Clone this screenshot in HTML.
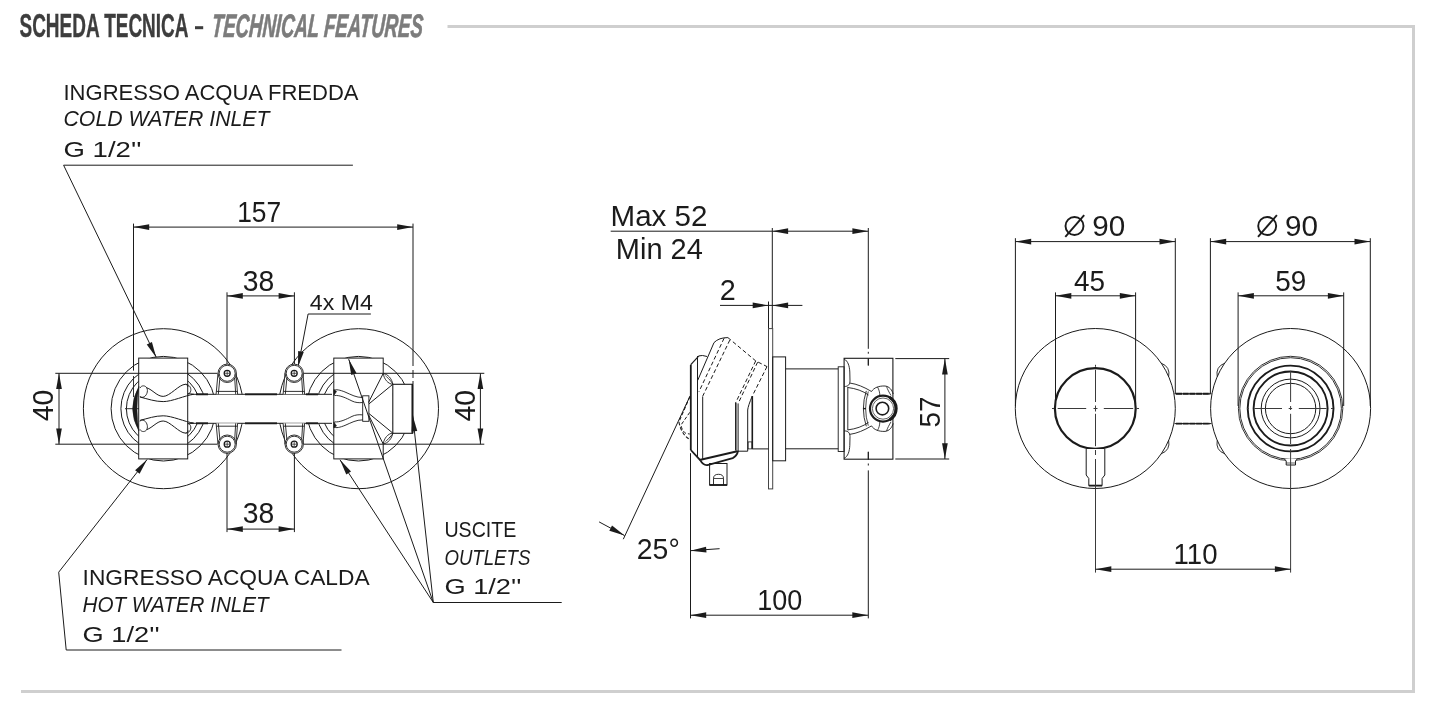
<!DOCTYPE html>
<html><head><meta charset="utf-8"><style>
html,body{margin:0;padding:0;background:#fff;width:1446px;height:714px;overflow:hidden}
svg{display:block;filter:grayscale(1)}
</style></head><body>
<svg width="1446" height="714" viewBox="0 0 1446 714">
<rect width="1446" height="714" fill="#fff"/>
<line x1="447.50" y1="26.40" x2="1415.00" y2="26.40" stroke="#cecfd1" stroke-width="3" />
<line x1="1413.50" y1="24.90" x2="1413.50" y2="692.90" stroke="#cecfd1" stroke-width="3" />
<line x1="21.00" y1="691.40" x2="1415.00" y2="691.40" stroke="#cecfd1" stroke-width="3" />
<text x="19.50" y="37.30" font-family="Liberation Sans" font-size="32.5" font-style="normal" font-weight="bold" fill="#3d3d3f" text-anchor="start" textLength="169.00" lengthAdjust="spacingAndGlyphs" stroke="#3d3d3f" stroke-width="0.4">SCHEDA TECNICA</text>
<rect x="195.00" y="26.20" width="8.20" height="3.00" fill="#3d3d3f" stroke="none" stroke-width="0" />
<text x="211.30" y="37.30" font-family="Liberation Sans" font-size="32.5" font-style="italic" font-weight="bold" fill="#7b7c80" text-anchor="start" textLength="211.00" lengthAdjust="spacingAndGlyphs" stroke="#7b7c80" stroke-width="0.7" transform="translate(0,37.3) skewX(-4) translate(0,-37.3)">TECHNICAL FEATURES</text>
<text x="63.50" y="99.80" font-family="Liberation Sans" font-size="22.2" font-style="normal" font-weight="normal" fill="#1b1b1b" text-anchor="start" textLength="295.00" lengthAdjust="spacingAndGlyphs" >INGRESSO ACQUA FREDDA</text>
<text x="63.50" y="126.40" font-family="Liberation Sans" font-size="22.2" font-style="italic" font-weight="normal" fill="#1b1b1b" text-anchor="start" textLength="206.00" lengthAdjust="spacingAndGlyphs" >COLD WATER INLET</text>
<text x="63.50" y="157.00" font-family="Liberation Sans" font-size="22.2" font-style="normal" font-weight="normal" fill="#1b1b1b" text-anchor="start" textLength="78.00" lengthAdjust="spacingAndGlyphs" >G 1/2''</text>
<polyline points="352.90,165.20 63.60,165.20 156.20,357.00" fill="none" stroke="#1b1b1b" stroke-width="1.0" />
<polygon points="156.20,357.50 151.91,342.03 146.78,344.50" fill="#1b1b1b"/>
<text x="82.60" y="584.60" font-family="Liberation Sans" font-size="22.2" font-style="normal" font-weight="normal" fill="#1b1b1b" text-anchor="start" textLength="287.00" lengthAdjust="spacingAndGlyphs" >INGRESSO ACQUA CALDA</text>
<text x="82.60" y="611.60" font-family="Liberation Sans" font-size="22.2" font-style="italic" font-weight="normal" fill="#1b1b1b" text-anchor="start" textLength="186.00" lengthAdjust="spacingAndGlyphs" >HOT WATER INLET</text>
<text x="82.60" y="641.70" font-family="Liberation Sans" font-size="22.2" font-style="normal" font-weight="normal" fill="#1b1b1b" text-anchor="start" textLength="77.00" lengthAdjust="spacingAndGlyphs" >G 1/2''</text>
<polyline points="147.10,459.50 58.70,572.20 66.20,650.00 341.50,650.00" fill="none" stroke="#1b1b1b" stroke-width="1.0" />
<polygon points="147.10,459.50 135.11,470.17 139.59,473.69" fill="#1b1b1b"/>
<text x="444.40" y="537.30" font-family="Liberation Sans" font-size="22.2" font-style="normal" font-weight="normal" fill="#1b1b1b" text-anchor="start" textLength="72.00" lengthAdjust="spacingAndGlyphs" >USCITE</text>
<text x="444.40" y="564.70" font-family="Liberation Sans" font-size="22.2" font-style="italic" font-weight="normal" fill="#1b1b1b" text-anchor="start" textLength="86.00" lengthAdjust="spacingAndGlyphs" >OUTLETS</text>
<text x="444.40" y="594.10" font-family="Liberation Sans" font-size="22.2" font-style="normal" font-weight="normal" fill="#1b1b1b" text-anchor="start" textLength="77.00" lengthAdjust="spacingAndGlyphs" >G 1/2''</text>
<line x1="433.30" y1="602.50" x2="561.70" y2="602.50" stroke="#1b1b1b" stroke-width="1.0" />
<text x="309.80" y="309.80" font-family="Liberation Sans" font-size="22" font-style="normal" font-weight="normal" fill="#1b1b1b" text-anchor="start" textLength="63.00" lengthAdjust="spacingAndGlyphs" >4x M4</text>
<polyline points="370.90,314.00 308.10,314.00 298.00,367.00" fill="none" stroke="#1b1b1b" stroke-width="1.0" />
<polygon points="298.00,367.00 303.76,352.01 298.16,350.95" fill="#1b1b1b"/>
<circle cx="163.40" cy="408.70" r="80.00" fill="none" stroke="#1b1b1b" stroke-width="1.0" />
<circle cx="163.40" cy="408.70" r="52.30" fill="none" stroke="#1b1b1b" stroke-width="1.0" />
<circle cx="163.40" cy="408.70" r="42.50" fill="none" stroke="#1b1b1b" stroke-width="1.0" />
<circle cx="163.40" cy="408.70" r="37.00" fill="none" stroke="#1b1b1b" stroke-width="1.0" />
<circle cx="358.50" cy="408.70" r="80.00" fill="none" stroke="#1b1b1b" stroke-width="1.0" />
<circle cx="358.50" cy="408.70" r="52.30" fill="none" stroke="#1b1b1b" stroke-width="1.0" />
<circle cx="358.50" cy="408.70" r="42.50" fill="none" stroke="#1b1b1b" stroke-width="1.0" />
<circle cx="358.50" cy="408.70" r="37.00" fill="none" stroke="#1b1b1b" stroke-width="1.0" />
<rect x="191.00" y="394.30" width="141.00" height="29.00" fill="#fff" stroke="none" stroke-width="0" />
<line x1="191.00" y1="394.30" x2="332.00" y2="394.30" stroke="#1b1b1b" stroke-width="1.0" />
<line x1="191.00" y1="423.30" x2="332.00" y2="423.30" stroke="#1b1b1b" stroke-width="1.0" />
<line x1="196.00" y1="394.30" x2="208.00" y2="394.30" stroke="#1b1b1b" stroke-width="1.9" />
<line x1="196.00" y1="423.30" x2="208.00" y2="423.30" stroke="#1b1b1b" stroke-width="1.9" />
<line x1="245.00" y1="394.30" x2="277.00" y2="394.30" stroke="#1b1b1b" stroke-width="1.9" />
<line x1="245.00" y1="423.30" x2="277.00" y2="423.30" stroke="#1b1b1b" stroke-width="1.9" />
<line x1="306.00" y1="394.30" x2="318.00" y2="394.30" stroke="#1b1b1b" stroke-width="1.9" />
<line x1="306.00" y1="423.30" x2="318.00" y2="423.30" stroke="#1b1b1b" stroke-width="1.9" />
<polygon points="216.10,394.30 218.00,373.30 236.00,373.30 237.60,394.30" fill="#fff" stroke="none" stroke-width="0" />
<circle cx="227.20" cy="373.30" r="9.20" fill="#fff" stroke="#1b1b1b" stroke-width="0.9" />
<circle cx="227.20" cy="373.30" r="8.00" fill="none" stroke="#1b1b1b" stroke-width="0.9" />
<circle cx="227.20" cy="373.30" r="3.00" fill="none" stroke="#1b1b1b" stroke-width="1.3" />
<line x1="224.60" y1="373.30" x2="229.80" y2="373.30" stroke="#1b1b1b" stroke-width="0.7" />
<line x1="227.20" y1="370.70" x2="227.20" y2="375.90" stroke="#1b1b1b" stroke-width="0.7" />
<line x1="218.00" y1="373.30" x2="216.10" y2="394.30" stroke="#1b1b1b" stroke-width="0.9" />
<line x1="236.00" y1="373.30" x2="237.60" y2="394.30" stroke="#1b1b1b" stroke-width="0.9" />
<line x1="219.90" y1="377.80" x2="218.30" y2="394.30" stroke="#1b1b1b" stroke-width="0.9" />
<line x1="234.70" y1="377.80" x2="235.70" y2="394.30" stroke="#1b1b1b" stroke-width="0.9" />
<line x1="216.50" y1="391.40" x2="237.40" y2="391.40" stroke="#1b1b1b" stroke-width="0.9" />
<polygon points="216.10,423.30 218.00,444.20 236.00,444.20 237.60,423.30" fill="#fff" stroke="none" stroke-width="0" />
<circle cx="227.20" cy="444.20" r="9.20" fill="#fff" stroke="#1b1b1b" stroke-width="0.9" />
<circle cx="227.20" cy="444.20" r="8.00" fill="none" stroke="#1b1b1b" stroke-width="0.9" />
<circle cx="227.20" cy="444.20" r="3.00" fill="none" stroke="#1b1b1b" stroke-width="1.3" />
<line x1="224.60" y1="444.20" x2="229.80" y2="444.20" stroke="#1b1b1b" stroke-width="0.7" />
<line x1="227.20" y1="441.60" x2="227.20" y2="446.80" stroke="#1b1b1b" stroke-width="0.7" />
<line x1="218.00" y1="444.20" x2="216.10" y2="423.30" stroke="#1b1b1b" stroke-width="0.9" />
<line x1="236.00" y1="444.20" x2="237.60" y2="423.30" stroke="#1b1b1b" stroke-width="0.9" />
<line x1="219.90" y1="439.70" x2="218.30" y2="423.30" stroke="#1b1b1b" stroke-width="0.9" />
<line x1="234.70" y1="439.70" x2="235.70" y2="423.30" stroke="#1b1b1b" stroke-width="0.9" />
<line x1="216.50" y1="426.20" x2="237.40" y2="426.20" stroke="#1b1b1b" stroke-width="0.9" />
<polygon points="283.10,394.30 285.00,373.30 303.00,373.30 304.60,394.30" fill="#fff" stroke="none" stroke-width="0" />
<circle cx="294.20" cy="373.30" r="9.20" fill="#fff" stroke="#1b1b1b" stroke-width="0.9" />
<circle cx="294.20" cy="373.30" r="8.00" fill="none" stroke="#1b1b1b" stroke-width="0.9" />
<circle cx="294.20" cy="373.30" r="3.00" fill="none" stroke="#1b1b1b" stroke-width="1.3" />
<line x1="291.60" y1="373.30" x2="296.80" y2="373.30" stroke="#1b1b1b" stroke-width="0.7" />
<line x1="294.20" y1="370.70" x2="294.20" y2="375.90" stroke="#1b1b1b" stroke-width="0.7" />
<line x1="285.00" y1="373.30" x2="283.10" y2="394.30" stroke="#1b1b1b" stroke-width="0.9" />
<line x1="303.00" y1="373.30" x2="304.60" y2="394.30" stroke="#1b1b1b" stroke-width="0.9" />
<line x1="286.90" y1="377.80" x2="285.30" y2="394.30" stroke="#1b1b1b" stroke-width="0.9" />
<line x1="301.70" y1="377.80" x2="302.70" y2="394.30" stroke="#1b1b1b" stroke-width="0.9" />
<line x1="283.50" y1="391.40" x2="304.40" y2="391.40" stroke="#1b1b1b" stroke-width="0.9" />
<polygon points="283.10,423.30 285.00,444.20 303.00,444.20 304.60,423.30" fill="#fff" stroke="none" stroke-width="0" />
<circle cx="294.20" cy="444.20" r="9.20" fill="#fff" stroke="#1b1b1b" stroke-width="0.9" />
<circle cx="294.20" cy="444.20" r="8.00" fill="none" stroke="#1b1b1b" stroke-width="0.9" />
<circle cx="294.20" cy="444.20" r="3.00" fill="none" stroke="#1b1b1b" stroke-width="1.3" />
<line x1="291.60" y1="444.20" x2="296.80" y2="444.20" stroke="#1b1b1b" stroke-width="0.7" />
<line x1="294.20" y1="441.60" x2="294.20" y2="446.80" stroke="#1b1b1b" stroke-width="0.7" />
<line x1="285.00" y1="444.20" x2="283.10" y2="423.30" stroke="#1b1b1b" stroke-width="0.9" />
<line x1="303.00" y1="444.20" x2="304.60" y2="423.30" stroke="#1b1b1b" stroke-width="0.9" />
<line x1="286.90" y1="439.70" x2="285.30" y2="423.30" stroke="#1b1b1b" stroke-width="0.9" />
<line x1="301.70" y1="439.70" x2="302.70" y2="423.30" stroke="#1b1b1b" stroke-width="0.9" />
<line x1="283.50" y1="426.20" x2="304.40" y2="426.20" stroke="#1b1b1b" stroke-width="0.9" />
<rect x="138.70" y="358.10" width="49.00" height="100.80" fill="#fff" stroke="#1b1b1b" stroke-width="1.0" />
<rect x="333.80" y="358.10" width="49.40" height="100.80" fill="#fff" stroke="#1b1b1b" stroke-width="1.0" />
<g >
<path d="M146.6,387.7 C153,390 157,396.4 163.2,396.4 C170,396.4 179,384.3 185.5,384.3 C187,384.5 188,386 188,387" fill="none" stroke="#1b1b1b" stroke-width="1" />
<path d="M139.9,397 C148,399 155,401.6 163.2,401.6 C172,401.6 185,395.5 193.6,394.3" fill="none" stroke="#1b1b1b" stroke-width="1" />
<path d="M140,388 C141.5,385 145.5,385.3 146.8,388 C148.5,391 146.5,396.5 143,397.3 C141,397.6 140,396.5 140,396" fill="none" stroke="#1b1b1b" stroke-width="0.9" />
<path d="M185.5,384.3 C189,384.3 191.2,387.5 190.8,390.5 C190.5,392.5 189.5,393.8 187.7,394.3" fill="none" stroke="#1b1b1b" stroke-width="0.9" />
<line x1="187.70" y1="393.50" x2="193.60" y2="394.30" stroke="#1b1b1b" stroke-width="0.9" />
</g>
<g transform="matrix(1 0 0 -1 0 817.4)">
<path d="M146.6,387.7 C153,390 157,396.4 163.2,396.4 C170,396.4 179,384.3 185.5,384.3 C187,384.5 188,386 188,387" fill="none" stroke="#1b1b1b" stroke-width="1" />
<path d="M139.9,397 C148,399 155,401.6 163.2,401.6 C172,401.6 185,395.5 193.6,394.3" fill="none" stroke="#1b1b1b" stroke-width="1" />
<path d="M140,388 C141.5,385 145.5,385.3 146.8,388 C148.5,391 146.5,396.5 143,397.3 C141,397.6 140,396.5 140,396" fill="none" stroke="#1b1b1b" stroke-width="0.9" />
<path d="M185.5,384.3 C189,384.3 191.2,387.5 190.8,390.5 C190.5,392.5 189.5,393.8 187.7,394.3" fill="none" stroke="#1b1b1b" stroke-width="0.9" />
<line x1="187.70" y1="393.50" x2="193.60" y2="394.30" stroke="#1b1b1b" stroke-width="0.9" />
</g>
<path d="M138.9,386.5 Q126.5,408.7 138.9,431 Q135,408.7 138.9,386.5 Z" fill="#1b1b1b" stroke="#1b1b1b" stroke-width="0.6" />
<line x1="125.00" y1="408.70" x2="139.00" y2="408.70" stroke="#1b1b1b" stroke-width="0.9" />
<line x1="133.50" y1="223.60" x2="133.50" y2="370.60" stroke="#1b1b1b" stroke-width="1.0" />
<line x1="133.50" y1="376.00" x2="133.50" y2="397.00" stroke="#1b1b1b" stroke-width="0.9" />
<line x1="413.00" y1="223.60" x2="413.00" y2="366.00" stroke="#1b1b1b" stroke-width="1.0" />
<line x1="413.00" y1="370.00" x2="413.00" y2="378.00" stroke="#1b1b1b" stroke-width="1.0" />
<line x1="413.00" y1="381.00" x2="413.00" y2="384.30" stroke="#1b1b1b" stroke-width="1.0" />
<line x1="133.40" y1="227.10" x2="413.00" y2="227.10" stroke="#1b1b1b" stroke-width="1.0" />
<polygon points="133.40,227.10 149.20,229.95 149.20,224.25" fill="#1b1b1b"/>
<polygon points="413.00,227.10 397.20,224.25 397.20,229.95" fill="#1b1b1b"/>
<text x="237.20" y="222.00" font-family="Liberation Sans" font-size="28.6" font-style="normal" font-weight="normal" fill="#1b1b1b" text-anchor="start" textLength="44.00" lengthAdjust="spacingAndGlyphs" >157</text>
<line x1="227.00" y1="292.30" x2="227.00" y2="364.00" stroke="#1b1b1b" stroke-width="1.0" />
<line x1="294.40" y1="292.30" x2="294.40" y2="364.00" stroke="#1b1b1b" stroke-width="1.0" />
<line x1="227.00" y1="295.90" x2="294.40" y2="295.90" stroke="#1b1b1b" stroke-width="1.0" />
<polygon points="227.00,295.90 242.80,298.75 242.80,293.05" fill="#1b1b1b"/>
<polygon points="294.40,295.90 278.60,293.05 278.60,298.75" fill="#1b1b1b"/>
<text x="242.80" y="290.80" font-family="Liberation Sans" font-size="28.6" font-style="normal" font-weight="normal" fill="#1b1b1b" text-anchor="start" textLength="31.50" lengthAdjust="spacingAndGlyphs" >38</text>
<line x1="227.00" y1="453.00" x2="227.00" y2="532.10" stroke="#1b1b1b" stroke-width="1.0" />
<line x1="294.40" y1="453.00" x2="294.40" y2="532.10" stroke="#1b1b1b" stroke-width="1.0" />
<line x1="227.00" y1="529.10" x2="294.40" y2="529.10" stroke="#1b1b1b" stroke-width="1.0" />
<polygon points="227.00,529.10 242.80,531.95 242.80,526.25" fill="#1b1b1b"/>
<polygon points="294.40,529.10 278.60,526.25 278.60,531.95" fill="#1b1b1b"/>
<text x="242.80" y="523.30" font-family="Liberation Sans" font-size="28.6" font-style="normal" font-weight="normal" fill="#1b1b1b" text-anchor="start" textLength="31.50" lengthAdjust="spacingAndGlyphs" >38</text>
<line x1="55.30" y1="373.30" x2="217.30" y2="373.30" stroke="#1b1b1b" stroke-width="1.0" />
<line x1="303.70" y1="373.30" x2="484.30" y2="373.30" stroke="#1b1b1b" stroke-width="1.0" />
<line x1="55.30" y1="444.20" x2="217.30" y2="444.20" stroke="#1b1b1b" stroke-width="1.0" />
<line x1="303.70" y1="444.20" x2="484.30" y2="444.20" stroke="#1b1b1b" stroke-width="1.0" />
<line x1="59.00" y1="373.30" x2="59.00" y2="444.20" stroke="#1b1b1b" stroke-width="1.0" />
<polygon points="59.00,373.30 56.15,389.10 61.85,389.10" fill="#1b1b1b"/>
<polygon points="59.00,444.20 61.85,428.40 56.15,428.40" fill="#1b1b1b"/>
<line x1="480.40" y1="373.30" x2="480.40" y2="444.20" stroke="#1b1b1b" stroke-width="1.0" />
<polygon points="480.40,373.30 477.55,389.10 483.25,389.10" fill="#1b1b1b"/>
<polygon points="480.40,444.20 483.25,428.40 477.55,428.40" fill="#1b1b1b"/>
<text x="0" y="0" transform="translate(53.40,405.50) rotate(-90)" font-family="Liberation Sans" font-size="28.6" fill="#1b1b1b" text-anchor="middle" textLength="31.50" lengthAdjust="spacingAndGlyphs">40</text>
<polygon points="383.20,373.50 392.80,384.30 392.80,433.10 383.20,443.90 368.50,414.90 368.50,402.50" fill="#fff" stroke="none" stroke-width="0" />
<g >
<line x1="383.20" y1="373.50" x2="368.50" y2="402.50" stroke="#1b1b1b" stroke-width="1.0" />
<line x1="392.80" y1="384.30" x2="368.80" y2="404.00" stroke="#1b1b1b" stroke-width="1.0" />
<path d="M383.2,373.5 C388,374 392,379 392.8,384.3 C388,384 384,379 383.2,373.5 Z" fill="none" stroke="#1b1b1b" stroke-width="0.9" />
<path d="M333.8,390.5 C336,389 340,390 345,392 C352,395 356,397.5 362.7,397.5" fill="none" stroke="#1b1b1b" stroke-width="0.9" />
<path d="M334.5,395.5 C340,395 346,398 352,401 C355,402.5 359,403 362.7,402.5" fill="none" stroke="#1b1b1b" stroke-width="0.9" />
<path d="M333.8,389.5 L336.5,391.5 L333.8,395.5 Z" fill="#1b1b1b" stroke="#1b1b1b" stroke-width="0.6" />
</g>
<g transform="matrix(1 0 0 -1 0 817.4)">
<line x1="383.20" y1="373.50" x2="368.50" y2="402.50" stroke="#1b1b1b" stroke-width="1.0" />
<line x1="392.80" y1="384.30" x2="368.80" y2="404.00" stroke="#1b1b1b" stroke-width="1.0" />
<path d="M383.2,373.5 C388,374 392,379 392.8,384.3 C388,384 384,379 383.2,373.5 Z" fill="none" stroke="#1b1b1b" stroke-width="0.9" />
<path d="M333.8,390.5 C336,389 340,390 345,392 C352,395 356,397.5 362.7,397.5" fill="none" stroke="#1b1b1b" stroke-width="0.9" />
<path d="M334.5,395.5 C340,395 346,398 352,401 C355,402.5 359,403 362.7,402.5" fill="none" stroke="#1b1b1b" stroke-width="0.9" />
<path d="M333.8,389.5 L336.5,391.5 L333.8,395.5 Z" fill="#1b1b1b" stroke="#1b1b1b" stroke-width="0.6" />
</g>
<rect x="392.80" y="384.30" width="19.70" height="49.00" fill="#fff" stroke="#1b1b1b" stroke-width="1.1" />
<line x1="412.50" y1="384.30" x2="412.50" y2="433.30" stroke="#1b1b1b" stroke-width="2" />
<rect x="362.70" y="395.80" width="6.20" height="25.50" fill="none" stroke="#1b1b1b" stroke-width="0.9" />
<text x="0" y="0" transform="translate(474.50,405.80) rotate(-90)" font-family="Liberation Sans" font-size="28.6" fill="#1b1b1b" text-anchor="middle" textLength="31.50" lengthAdjust="spacingAndGlyphs">40</text>
<line x1="348.70" y1="359.20" x2="433.30" y2="602.50" stroke="#1b1b1b" stroke-width="1.0" />
<polygon points="348.70,359.20 351.20,375.06 356.58,373.19" fill="#1b1b1b"/>
<line x1="412.70" y1="415.50" x2="433.30" y2="602.50" stroke="#1b1b1b" stroke-width="1.0" />
<polygon points="412.70,415.50 411.60,431.52 417.26,430.89" fill="#1b1b1b"/>
<line x1="340.00" y1="459.80" x2="433.30" y2="602.50" stroke="#1b1b1b" stroke-width="1.0" />
<polygon points="340.00,459.80 346.26,474.58 351.03,471.46" fill="#1b1b1b"/>
<text x="610.50" y="226.00" font-family="Liberation Sans" font-size="28.6" font-style="normal" font-weight="normal" fill="#1b1b1b" text-anchor="start" textLength="97.00" lengthAdjust="spacingAndGlyphs" >Max 52</text>
<text x="615.80" y="258.90" font-family="Liberation Sans" font-size="28.6" font-style="normal" font-weight="normal" fill="#1b1b1b" text-anchor="start" textLength="87.00" lengthAdjust="spacingAndGlyphs" >Min 24</text>
<line x1="610.70" y1="231.20" x2="772.30" y2="231.20" stroke="#1b1b1b" stroke-width="1.0" />
<line x1="772.30" y1="231.20" x2="868.20" y2="231.20" stroke="#1b1b1b" stroke-width="1.0" />
<polygon points="772.30,231.20 788.10,234.05 788.10,228.35" fill="#1b1b1b"/>
<polygon points="868.20,231.20 852.40,228.35 852.40,234.05" fill="#1b1b1b"/>
<line x1="772.30" y1="228.00" x2="772.30" y2="328.60" stroke="#1b1b1b" stroke-width="1.0" />
<line x1="768.50" y1="301.50" x2="768.50" y2="328.60" stroke="#1b1b1b" stroke-width="1.0" />
<line x1="720.00" y1="305.40" x2="802.40" y2="305.40" stroke="#1b1b1b" stroke-width="1.0" />
<polygon points="768.50,305.40 752.70,302.55 752.70,308.25" fill="#1b1b1b"/>
<polygon points="772.30,305.40 788.10,308.25 788.10,302.55" fill="#1b1b1b"/>
<text x="719.80" y="299.60" font-family="Liberation Sans" font-size="28.6" font-style="normal" font-weight="normal" fill="#1b1b1b" text-anchor="start" textLength="16.00" lengthAdjust="spacingAndGlyphs" >2</text>
<line x1="868.30" y1="228.00" x2="868.30" y2="348.80" stroke="#1b1b1b" stroke-width="1.0" />
<line x1="868.30" y1="351.80" x2="868.30" y2="353.70" stroke="#1b1b1b" stroke-width="1.0" />
<line x1="868.30" y1="358.60" x2="868.30" y2="365.50" stroke="#1b1b1b" stroke-width="1.0" />
<line x1="868.30" y1="451.80" x2="868.30" y2="459.60" stroke="#1b1b1b" stroke-width="1.0" />
<line x1="868.30" y1="463.50" x2="868.30" y2="465.50" stroke="#1b1b1b" stroke-width="1.0" />
<line x1="868.30" y1="470.40" x2="868.30" y2="618.40" stroke="#1b1b1b" stroke-width="1.0" />
<rect x="768.50" y="328.60" width="4.20" height="160.30" fill="none" stroke="#444" stroke-width="1" />
<rect x="772.70" y="356.90" width="12.90" height="103.90" fill="none" stroke="#1b1b1b" stroke-width="1" />
<line x1="785.60" y1="368.90" x2="838.20" y2="368.90" stroke="#1b1b1b" stroke-width="1.0" />
<line x1="785.60" y1="448.80" x2="838.20" y2="448.80" stroke="#1b1b1b" stroke-width="1.0" />
<rect x="838.20" y="366.80" width="5.90" height="84.70" fill="none" stroke="#1b1b1b" stroke-width="0.9" />
<rect x="844.10" y="358.30" width="48.80" height="100.90" fill="none" stroke="#1b1b1b" stroke-width="1.1" />
<line x1="868.30" y1="358.60" x2="868.30" y2="365.50" stroke="#1b1b1b" stroke-width="1.0" />
<line x1="868.30" y1="451.80" x2="868.30" y2="459.60" stroke="#1b1b1b" stroke-width="1.0" />
<g >
<path d="M844.1,359 C848,361 849.5,366 849.8,372 L850,381 C849.8,384.5 848.5,386.5 844.1,386.5" fill="none" stroke="#1b1b1b" stroke-width="0.9" />
<path d="M849.6,383 C857,384 864,387 871.5,391.5" fill="none" stroke="#1b1b1b" stroke-width="0.9" />
<path d="M847.8,387.5 C856,388.5 863,391 868.5,395" fill="none" stroke="#1b1b1b" stroke-width="0.9" />
<path d="M871.5,391.5 C874,387.5 879,385.8 885,386 C889.5,386.5 892,390 893.2,394" fill="none" stroke="#1b1b1b" stroke-width="0.9" />
<path d="M877.5,387 C879,389.5 879.8,392.5 879.8,395.5" fill="none" stroke="#1b1b1b" stroke-width="0.8" />
<path d="M886.5,386.3 C887.5,389.5 889.2,392.5 891,395.5" fill="none" stroke="#1b1b1b" stroke-width="0.8" />
</g>
<g transform="matrix(1 0 0 -1 0 817.4)">
<path d="M844.1,359 C848,361 849.5,366 849.8,372 L850,381 C849.8,384.5 848.5,386.5 844.1,386.5" fill="none" stroke="#1b1b1b" stroke-width="0.9" />
<path d="M849.6,383 C857,384 864,387 871.5,391.5" fill="none" stroke="#1b1b1b" stroke-width="0.9" />
<path d="M847.8,387.5 C856,388.5 863,391 868.5,395" fill="none" stroke="#1b1b1b" stroke-width="0.9" />
<path d="M871.5,391.5 C874,387.5 879,385.8 885,386 C889.5,386.5 892,390 893.2,394" fill="none" stroke="#1b1b1b" stroke-width="0.9" />
<path d="M877.5,387 C879,389.5 879.8,392.5 879.8,395.5" fill="none" stroke="#1b1b1b" stroke-width="0.8" />
<path d="M886.5,386.3 C887.5,389.5 889.2,392.5 891,395.5" fill="none" stroke="#1b1b1b" stroke-width="0.8" />
</g>
<line x1="847.80" y1="387.00" x2="847.80" y2="430.20" stroke="#1b1b1b" stroke-width="0.9" />
<path d="M866.3,390.9 Q860.5,408.6 866.3,426.3" fill="none" stroke="#1b1b1b" stroke-width="0.9" />
<path d="M868.3,391.5 Q863,408.6 868.3,425.7" fill="none" stroke="#1b1b1b" stroke-width="0.8" />
<line x1="863.00" y1="408.60" x2="866.00" y2="408.60" stroke="#1b1b1b" stroke-width="1.4" />
<circle cx="883.00" cy="408.60" r="13.00" fill="#fff" stroke="#1b1b1b" stroke-width="2.2" />
<path d="M889.5,397.3 A13,13 0 0 1 889.5,419.9" fill="none" stroke="#1b1b1b" stroke-width="3.2" />
<circle cx="883.00" cy="408.60" r="10.60" fill="none" stroke="#1b1b1b" stroke-width="0.7" />
<circle cx="882.40" cy="408.60" r="6.30" fill="none" stroke="#1b1b1b" stroke-width="1.6" />
<line x1="895.30" y1="358.60" x2="949.20" y2="358.60" stroke="#1b1b1b" stroke-width="1.0" />
<line x1="895.30" y1="459.00" x2="949.20" y2="459.00" stroke="#1b1b1b" stroke-width="1.0" />
<line x1="944.90" y1="358.60" x2="944.90" y2="459.00" stroke="#1b1b1b" stroke-width="1.0" />
<polygon points="944.90,358.60 942.05,374.40 947.75,374.40" fill="#1b1b1b"/>
<polygon points="944.90,459.00 947.75,443.20 942.05,443.20" fill="#1b1b1b"/>
<text x="0" y="0" transform="translate(940.40,412.10) rotate(-90)" font-family="Liberation Sans" font-size="28.6" fill="#1b1b1b" text-anchor="middle" textLength="31.00" lengthAdjust="spacingAndGlyphs">57</text>
<line x1="690.80" y1="364.70" x2="690.80" y2="450.00" stroke="#1b1b1b" stroke-width="1.8" />
<polyline points="690.80,364.70 698.90,355.90" fill="none" stroke="#1b1b1b" stroke-width="1.2" />
<path d="M698.9,355.9 Q702,354.8 707.1,356.5" fill="none" stroke="#1b1b1b" stroke-width="1" />
<line x1="697.50" y1="356.00" x2="697.50" y2="457.30" stroke="#1b1b1b" stroke-width="1" />
<line x1="702.70" y1="396.50" x2="702.70" y2="458.90" stroke="#1b1b1b" stroke-width="1" />
<path d="M697.7,380.4 L714,342.6 Q719,337.5 727.9,337.6" fill="none" stroke="#1b1b1b" stroke-width="1" />
<polyline points="727.90,337.60 755.70,360.90 767.00,366.60" fill="none" stroke="#1b1b1b" stroke-width="1" stroke-dasharray="4 2.5"/>
<line x1="724.10" y1="338.20" x2="698.90" y2="391.80" stroke="#1b1b1b" stroke-width="1" stroke-dasharray="4 2.5"/>
<line x1="729.80" y1="340.10" x2="702.70" y2="396.20" stroke="#1b1b1b" stroke-width="1" stroke-dasharray="4 2.5"/>
<line x1="755.70" y1="360.90" x2="735.50" y2="403.10" stroke="#1b1b1b" stroke-width="1" stroke-dasharray="4 2.5"/>
<line x1="757.60" y1="362.20" x2="738.00" y2="403.80" stroke="#1b1b1b" stroke-width="1" stroke-dasharray="4 2.5"/>
<line x1="767.00" y1="366.60" x2="752.50" y2="395.60" stroke="#1b1b1b" stroke-width="1" stroke-dasharray="4 2.5"/>
<line x1="735.80" y1="403.10" x2="735.80" y2="450.50" stroke="#1b1b1b" stroke-width="1.5" />
<line x1="738.10" y1="403.80" x2="738.10" y2="451.00" stroke="#1b1b1b" stroke-width="1.0" />
<line x1="738.10" y1="451.20" x2="747.70" y2="451.20" stroke="#1b1b1b" stroke-width="1.0" />
<path d="M747.7,451.2 L747.7,410 Q748,406 752.3,396" fill="none" stroke="#1b1b1b" stroke-width="1" />
<line x1="752.30" y1="396.00" x2="752.30" y2="448.90" stroke="#1b1b1b" stroke-width="1.6" />
<line x1="752.30" y1="448.90" x2="768.50" y2="448.90" stroke="#1b1b1b" stroke-width="1.0" />
<rect x="748.10" y="441.90" width="3.90" height="7.00" fill="none" stroke="#1b1b1b" stroke-width="0.8" />
<polyline points="690.80,450.00 700.40,460.40" fill="none" stroke="#1b1b1b" stroke-width="1.8" />
<path d="M700.4,460.4 Q703,465.5 707.5,465 L732.7,458.1 Q737,456 738.1,450.8" fill="none" stroke="#1b1b1b" stroke-width="1.8" />
<line x1="699.60" y1="460.00" x2="737.30" y2="451.20" stroke="#1b1b1b" stroke-width="1.9" />
<rect x="709.60" y="463.50" width="17.40" height="21.50" fill="none" stroke="#1b1b1b" stroke-width="1" />
<line x1="709.60" y1="485.00" x2="727.00" y2="485.00" stroke="#1b1b1b" stroke-width="1.8" />
<path d="M713.5,485 L713.5,478.5 Q713.5,474.3 718.5,474.3 Q723.5,474.3 723.5,478.5 L723.5,485" fill="none" stroke="#1b1b1b" stroke-width="0.9" />
<line x1="713.50" y1="478.50" x2="723.50" y2="478.50" stroke="#1b1b1b" stroke-width="0.8" />
<path d="M689.8,396.7 L678.9,421.9 Q680,428 682.6,432 Q684.5,436 689.4,439.2" fill="none" stroke="#1b1b1b" stroke-width="1.1" stroke-dasharray="3.5 2"/>
<path d="M689.8,412.3 L681,425 Q682,431 686,433.5 L689.8,434" fill="none" stroke="#1b1b1b" stroke-width="1" stroke-dasharray="3.5 2"/>
<line x1="690.10" y1="395.90" x2="623.30" y2="539.20" stroke="#1b1b1b" stroke-width="1.0" />
<line x1="599.10" y1="521.90" x2="624.60" y2="535.60" stroke="#1b1b1b" stroke-width="1.0" />
<polygon points="624.60,535.60 612.03,525.61 609.33,530.63" fill="#1b1b1b"/>
<line x1="690.50" y1="550.70" x2="719.60" y2="548.70" stroke="#1b1b1b" stroke-width="1.0" />
<polygon points="690.50,550.70 706.46,552.46 706.07,546.77" fill="#1b1b1b"/>
<text x="636.80" y="559.20" font-family="Liberation Sans" font-size="28.6" font-style="normal" font-weight="normal" fill="#1b1b1b" text-anchor="start" textLength="43.00" lengthAdjust="spacingAndGlyphs" >25°</text>
<line x1="690.50" y1="453.20" x2="690.50" y2="618.40" stroke="#1b1b1b" stroke-width="1.0" />
<line x1="690.40" y1="615.20" x2="868.10" y2="615.20" stroke="#1b1b1b" stroke-width="1.0" />
<polygon points="690.40,615.20 706.20,618.05 706.20,612.35" fill="#1b1b1b"/>
<polygon points="868.10,615.20 852.30,612.35 852.30,618.05" fill="#1b1b1b"/>
<text x="757.20" y="610.10" font-family="Liberation Sans" font-size="28.6" font-style="normal" font-weight="normal" fill="#1b1b1b" text-anchor="start" textLength="45.00" lengthAdjust="spacingAndGlyphs" >100</text>
<line x1="1015.40" y1="238.20" x2="1015.40" y2="406.00" stroke="#1b1b1b" stroke-width="1.0" />
<line x1="1175.30" y1="238.20" x2="1175.30" y2="393.80" stroke="#1b1b1b" stroke-width="1.0" />
<line x1="1210.40" y1="238.20" x2="1210.40" y2="393.80" stroke="#1b1b1b" stroke-width="1.0" />
<line x1="1370.30" y1="238.20" x2="1370.30" y2="406.00" stroke="#1b1b1b" stroke-width="1.0" />
<line x1="1055.50" y1="292.40" x2="1055.50" y2="404.00" stroke="#1b1b1b" stroke-width="1.0" />
<line x1="1135.60" y1="292.40" x2="1135.60" y2="404.00" stroke="#1b1b1b" stroke-width="1.0" />
<line x1="1238.10" y1="292.40" x2="1238.10" y2="406.00" stroke="#1b1b1b" stroke-width="1.0" />
<line x1="1343.70" y1="292.40" x2="1343.70" y2="406.00" stroke="#1b1b1b" stroke-width="1.0" />
<line x1="1015.40" y1="241.60" x2="1175.30" y2="241.60" stroke="#1b1b1b" stroke-width="1.0" />
<polygon points="1015.40,241.60 1031.20,244.45 1031.20,238.75" fill="#1b1b1b"/>
<polygon points="1175.30,241.60 1159.50,238.75 1159.50,244.45" fill="#1b1b1b"/>
<line x1="1210.40" y1="241.60" x2="1370.30" y2="241.60" stroke="#1b1b1b" stroke-width="1.0" />
<polygon points="1210.40,241.60 1226.20,244.45 1226.20,238.75" fill="#1b1b1b"/>
<polygon points="1370.30,241.60 1354.50,238.75 1354.50,244.45" fill="#1b1b1b"/>
<line x1="1055.50" y1="295.80" x2="1135.60" y2="295.80" stroke="#1b1b1b" stroke-width="1.0" />
<polygon points="1055.50,295.80 1071.30,298.65 1071.30,292.95" fill="#1b1b1b"/>
<polygon points="1135.60,295.80 1119.80,292.95 1119.80,298.65" fill="#1b1b1b"/>
<line x1="1238.10" y1="295.80" x2="1343.70" y2="295.80" stroke="#1b1b1b" stroke-width="1.0" />
<polygon points="1238.10,295.80 1253.90,298.65 1253.90,292.95" fill="#1b1b1b"/>
<polygon points="1343.70,295.80 1327.90,292.95 1327.90,298.65" fill="#1b1b1b"/>
<circle cx="1074.50" cy="226.00" r="9.00" fill="none" stroke="#1b1b1b" stroke-width="1.9" />
<line x1="1065.30" y1="236.80" x2="1084.20" y2="215.20" stroke="#1b1b1b" stroke-width="1.9" />
<circle cx="1267.20" cy="226.00" r="9.00" fill="none" stroke="#1b1b1b" stroke-width="1.9" />
<line x1="1258.00" y1="236.80" x2="1276.90" y2="215.20" stroke="#1b1b1b" stroke-width="1.9" />
<text x="1092.30" y="236.20" font-family="Liberation Sans" font-size="28.6" font-style="normal" font-weight="normal" fill="#1b1b1b" text-anchor="start" textLength="33.00" lengthAdjust="spacingAndGlyphs" >90</text>
<text x="1285.00" y="236.20" font-family="Liberation Sans" font-size="28.6" font-style="normal" font-weight="normal" fill="#1b1b1b" text-anchor="start" textLength="33.00" lengthAdjust="spacingAndGlyphs" >90</text>
<text x="1074.00" y="290.90" font-family="Liberation Sans" font-size="28.6" font-style="normal" font-weight="normal" fill="#1b1b1b" text-anchor="start" textLength="31.00" lengthAdjust="spacingAndGlyphs" >45</text>
<text x="1275.20" y="290.90" font-family="Liberation Sans" font-size="28.6" font-style="normal" font-weight="normal" fill="#1b1b1b" text-anchor="start" textLength="31.00" lengthAdjust="spacingAndGlyphs" >59</text>
<line x1="1174.50" y1="393.80" x2="1211.50" y2="393.80" stroke="#1b1b1b" stroke-width="1.0" />
<line x1="1174.50" y1="423.60" x2="1211.50" y2="423.60" stroke="#1b1b1b" stroke-width="1.0" />
<line x1="1176.00" y1="393.80" x2="1210.00" y2="393.80" stroke="#1b1b1b" stroke-width="1.9" stroke-dasharray="6 0.7"/>
<line x1="1176.00" y1="423.60" x2="1210.00" y2="423.60" stroke="#1b1b1b" stroke-width="1.9" stroke-dasharray="6 0.7"/>
<circle cx="1095.30" cy="408.50" r="80.00" fill="none" stroke="#1b1b1b" stroke-width="1.0" />
<circle cx="1290.60" cy="408.50" r="80.00" fill="none" stroke="#1b1b1b" stroke-width="1.0" />
<path d="M1161.23,363.19 Q1170.52,366.81 1168.66,376.60" fill="none" stroke="#1b1b1b" stroke-width="0.9" />
<path d="M1168.66,440.40 Q1170.52,450.19 1161.23,453.81" fill="none" stroke="#1b1b1b" stroke-width="0.9" />
<path d="M1217.24,376.60 Q1215.38,366.81 1224.67,363.19" fill="none" stroke="#1b1b1b" stroke-width="0.9" />
<path d="M1224.67,453.81 Q1215.38,450.19 1217.24,440.40" fill="none" stroke="#1b1b1b" stroke-width="0.9" />
<circle cx="1095.30" cy="408.50" r="40.40" fill="none" stroke="#1b1b1b" stroke-width="2.2" />
<line x1="1052.00" y1="408.50" x2="1054.00" y2="408.50" stroke="#3a3a3a" stroke-width="1.0" />
<line x1="1057.70" y1="408.50" x2="1086.20" y2="408.50" stroke="#3a3a3a" stroke-width="1.0" />
<line x1="1093.50" y1="408.50" x2="1097.50" y2="408.50" stroke="#3a3a3a" stroke-width="1.0" />
<line x1="1103.80" y1="408.50" x2="1133.20" y2="408.50" stroke="#3a3a3a" stroke-width="1.0" />
<line x1="1136.80" y1="408.50" x2="1139.00" y2="408.50" stroke="#3a3a3a" stroke-width="1.0" />
<line x1="1095.50" y1="364.80" x2="1095.50" y2="366.80" stroke="#3a3a3a" stroke-width="1.0" />
<line x1="1095.50" y1="369.70" x2="1095.50" y2="402.00" stroke="#3a3a3a" stroke-width="1.0" />
<line x1="1095.50" y1="405.50" x2="1095.50" y2="411.50" stroke="#3a3a3a" stroke-width="1.0" />
<line x1="1095.50" y1="413.80" x2="1095.50" y2="446.20" stroke="#3a3a3a" stroke-width="1.0" />
<path d="M1086.2,449 L1086.2,475 L1088.8,478.5 L1088.8,485.6 L1102.1,485.6 L1102.1,478.5 L1104.8,475 L1104.8,449" fill="#fff" stroke="#1b1b1b" stroke-width="1" />
<line x1="1088.80" y1="485.60" x2="1102.10" y2="485.60" stroke="#1b1b1b" stroke-width="1.8" />
<line x1="1095.50" y1="450.00" x2="1095.50" y2="455.00" stroke="#3a3a3a" stroke-width="1.0" />
<line x1="1095.50" y1="459.00" x2="1095.50" y2="572.60" stroke="#3a3a3a" stroke-width="1.0" />
<circle cx="1290.60" cy="408.50" r="52.20" fill="none" stroke="#1b1b1b" stroke-width="0.9" />
<circle cx="1290.60" cy="408.50" r="50.80" fill="none" stroke="#1b1b1b" stroke-width="0.9" />
<circle cx="1290.60" cy="408.50" r="42.90" fill="none" stroke="#1b1b1b" stroke-width="1.9" />
<circle cx="1290.60" cy="408.50" r="37.00" fill="none" stroke="#1b1b1b" stroke-width="1.9" />
<circle cx="1290.60" cy="408.50" r="29.40" fill="none" stroke="#1b1b1b" stroke-width="1" />
<circle cx="1290.60" cy="408.50" r="25.20" fill="none" stroke="#1b1b1b" stroke-width="1" />
<path d="M1284.3,458.8 L1286.2,461 L1286.2,465 L1295.5,465 L1295.5,461 L1297.4,458.8 Z" fill="#fff" stroke="none" stroke-width="0" />
<path d="M1284.3,458.8 L1286.2,461 L1286.2,465 L1295.5,465 L1295.5,461 L1297.4,458.8" fill="none" stroke="#1b1b1b" stroke-width="1" />
<line x1="1286.20" y1="463.00" x2="1295.50" y2="463.00" stroke="#1b1b1b" stroke-width="0.7" />
<line x1="1247.00" y1="408.50" x2="1249.00" y2="408.50" stroke="#3a3a3a" stroke-width="1.0" />
<line x1="1254.30" y1="408.50" x2="1282.00" y2="408.50" stroke="#3a3a3a" stroke-width="1.0" />
<line x1="1288.70" y1="408.50" x2="1292.10" y2="408.50" stroke="#3a3a3a" stroke-width="1.0" />
<line x1="1298.80" y1="408.50" x2="1326.60" y2="408.50" stroke="#3a3a3a" stroke-width="1.0" />
<line x1="1331.00" y1="408.50" x2="1333.00" y2="408.50" stroke="#3a3a3a" stroke-width="1.0" />
<line x1="1290.60" y1="370.90" x2="1290.60" y2="402.00" stroke="#3a3a3a" stroke-width="1.0" />
<line x1="1290.60" y1="406.00" x2="1290.60" y2="410.00" stroke="#3a3a3a" stroke-width="1.0" />
<line x1="1290.60" y1="413.80" x2="1290.60" y2="444.00" stroke="#3a3a3a" stroke-width="1.0" />
<line x1="1290.60" y1="449.00" x2="1290.60" y2="572.60" stroke="#3a3a3a" stroke-width="1.0" />
<line x1="1095.50" y1="569.20" x2="1290.70" y2="569.20" stroke="#1b1b1b" stroke-width="1.0" />
<polygon points="1095.50,569.20 1111.30,572.05 1111.30,566.35" fill="#1b1b1b"/>
<polygon points="1290.70,569.20 1274.90,566.35 1274.90,572.05" fill="#1b1b1b"/>
<text x="1173.50" y="563.80" font-family="Liberation Sans" font-size="28.6" font-style="normal" font-weight="normal" fill="#1b1b1b" text-anchor="start" textLength="44.00" lengthAdjust="spacingAndGlyphs" >110</text>
</svg>
</body></html>
